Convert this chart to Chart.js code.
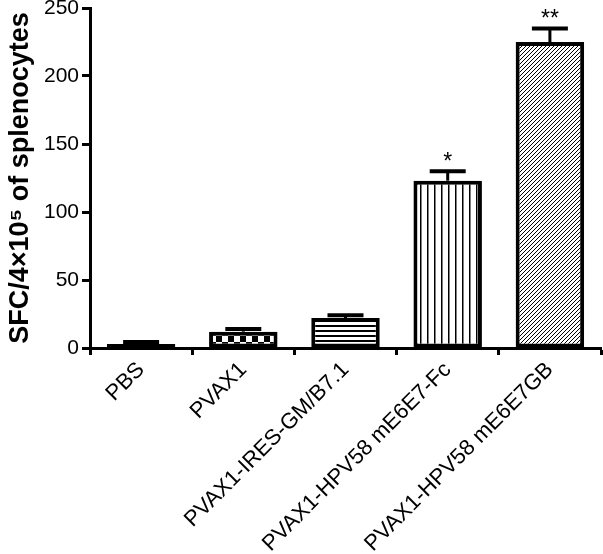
<!DOCTYPE html>
<html>
<head>
<meta charset="utf-8">
<script src="https://cdn.jsdelivr.net/npm/chart.js@4"></script>
<style>
  html, body { margin: 0; padding: 0; background: #fff; }
</style>
</head>
<body>
<canvas id="spotChart" width="603" height="554"></canvas>
<script>
// groups, means, upper error (SEM) and significance marks
const groups = ['PBS', 'PVAX1', 'PVAX1-IRES-GM/B7.1', 'PVAX1-HPV58 mE6E7-Fc', 'PVAX1-HPV58 mE6E7GB'];
const means = [3, 12, 22, 123, 225];
const errors = [1.5, 2, 2, 7, 10];
const stars = ['', '', '', '*', '**'];
const yTicks = [0, 50, 100, 150, 200, 250];

const canvas = document.getElementById('spotChart');
const ctx = canvas.getContext('2d');

function makeTile(w, h, draw) {
    const c = document.createElement('canvas');
    c.width = w; c.height = h;
    const g = c.getContext('2d');
    g.fillStyle = '#fff';
    g.fillRect(0, 0, w, h);
    g.fillStyle = '#000';
    g.strokeStyle = '#000';
    draw(g, w, h);
    return ctx.createPattern(c, 'repeat');
}

const checker = makeTile(12, 12, function(g) {
    g.fillRect(0, 0, 6, 6);
    g.fillRect(6, 6, 6, 6);
});
const horiz = makeTile(5, 5, function(g) {
    g.fillRect(0, 0, 5, 2);
});
const vert = makeTile(7, 7, function(g) {
    g.fillRect(0, 0, 1.5, 7);
});
const diag = makeTile(4, 4, function(g) {
    g.lineWidth = 1;
    g.beginPath();
    g.moveTo(-1, 5); g.lineTo(5, -1);
    g.moveTo(-1, 1); g.lineTo(1, -1);
    g.moveTo(3, 5); g.lineTo(5, 3);
    g.stroke();
});
const fills = ['#000', checker, horiz, vert, diag];

const errorBars = {
    id: 'errorBars',
    afterDatasetsDraw(chart) {
        const c = chart.ctx;
        const meta = chart.getDatasetMeta(0);
        const y = chart.scales.y;
        c.save();
        c.strokeStyle = '#000';
        c.fillStyle = '#000';
        meta.data.forEach(function(bar, i) {
            const top = y.getPixelForValue(means[i]);
            const cap = y.getPixelForValue(means[i] + errors[i]);
            c.lineWidth = 3;
            c.beginPath();
            c.moveTo(bar.x, top);
            c.lineTo(bar.x, cap);
            c.stroke();
            c.lineWidth = 4;
            c.beginPath();
            c.moveTo(bar.x - 18, cap);
            c.lineTo(bar.x + 18, cap);
            c.stroke();
            if (stars[i]) {
                c.font = '23px Arial, "Liberation Sans", sans-serif';
                c.textAlign = 'center';
                c.textBaseline = 'alphabetic';
                c.fillText(stars[i], bar.x, cap - 2);
            }
        });
        c.restore();
    }
};

new Chart(ctx, {
    type: 'bar',
    data: {
        labels: groups,
        datasets: [{
            data: means,
            backgroundColor: fills,
            borderColor: '#000',
            borderWidth: 4,
            borderSkipped: false,
            barPercentage: 0.67,
            categoryPercentage: 1.0
        }]
    },
    options: {
        responsive: false,
        animation: false,
        layout: { padding: { top: 0, right: 2, left: 4, bottom: 0 } },
        plugins: {
            legend: { display: false },
            tooltip: { enabled: false }
        },
        scales: {
            x: {
                grid: { display: true, drawOnChartArea: false, tickLength: 7, tickWidth: 3, color: '#000' },
                border: { color: '#000', width: 3 },
                ticks: {
                    color: '#000',
                    autoSkip: false,
                    minRotation: 45,
                    maxRotation: 45,
                    padding: 2,
                    font: { family: 'Arial, "Liberation Sans", sans-serif', size: 22 }
                },
                afterFit(scale) { scale.height = 206; }
            },
            y: {
                min: 0,
                max: 250,
                afterBuildTicks(scale) { scale.ticks = yTicks.map(v => ({ value: v })); },
                grid: { display: true, drawOnChartArea: false, tickLength: 8, tickWidth: 3, color: '#000' },
                border: { color: '#000', width: 3 },
                ticks: {
                    color: '#000',
                    padding: 3,
                    font: { family: 'Arial, "Liberation Sans", sans-serif', size: 21 }
                },
                title: {
                    display: true,
                    text: 'SFC/4×10⁵ of splenocytes',
                    color: '#000',
                    padding: { top: 0, bottom: 2 },
                    font: { family: 'Arial, "Liberation Sans", sans-serif', size: 27, weight: 'bold' }
                },
                afterFit(scale) {
                    scale.width = 86;
                    scale.paddingTop = 8;
                }
            }
        }
    },
    plugins: [errorBars]
});
</script>
</body>
</html>
